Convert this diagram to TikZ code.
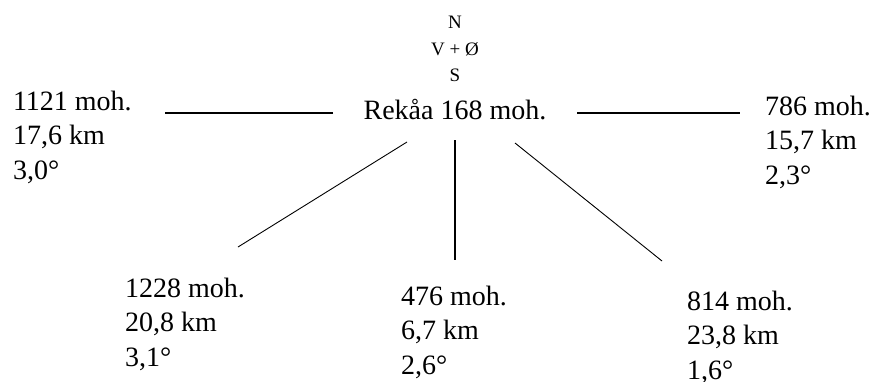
\documentclass[tikz,border=0pt]{standalone}
\usepackage{fontspec}
\setmainfont{Liberation Serif}
\usepackage{tikz}
\usetikzlibrary{positioning}

\begin{document}
\begin{tikzpicture}[x=1pt, y=-1pt,
  every node/.style={inner sep=0pt, outer sep=0pt},
  info/.style={font=\fontsize{28}{34.5}\selectfont, align=left, anchor=north west},
  link/.style={line width=0.9pt}]
  \useasboundingbox (0,0) rectangle (877,381);
  % compass and centre
  \node[font=\fontsize{19}{26.5}\selectfont, align=center, anchor=north] (kompass) at (455,16.5) {N\\V + Ø\\S};
  \node[font=\fontsize{28}{34.5}\selectfont, anchor=base] (rekaa) at (455,119) {Rekåa 168 moh.};
  % the five points
  \node[info] (vest) at (13,91) {1121 moh.\\17,6 km\\3,0°};
  \node[info] (ost) at (765,96) {786 moh.\\15,7 km\\2,3°};
  \node[info] (sv) at (125,278) {1228 moh.\\20,8 km\\3,1°};
  \node[info] (syd) at (401,286) {476 moh.\\6,7 km\\2,6°};
  \node[info] (so) at (687,291) {814 moh.\\23,8 km\\1,6°};
  % line ends
  \coordinate (v1) at (333,113);  \coordinate (v2) at (165,113);
  \coordinate (o1) at (577,113);  \coordinate (o2) at (740,113);
  \coordinate (sv1) at (407,142); \coordinate (sv2) at (238,247);
  \coordinate (s1) at (455,140);  \coordinate (s2) at (455,260);
  \coordinate (so1) at (515,143); \coordinate (so2) at (662,261);
  \draw[link, line width=1.6pt] (v1) -- (v2);
  \draw[link, line width=1.6pt] (o1) -- (o2);
  \draw[link] (sv1) -- (sv2);
  \draw[link, line width=1.3pt] (s1) -- (s2);
  \draw[link] (so1) -- (so2);
\end{tikzpicture}
\end{document}
